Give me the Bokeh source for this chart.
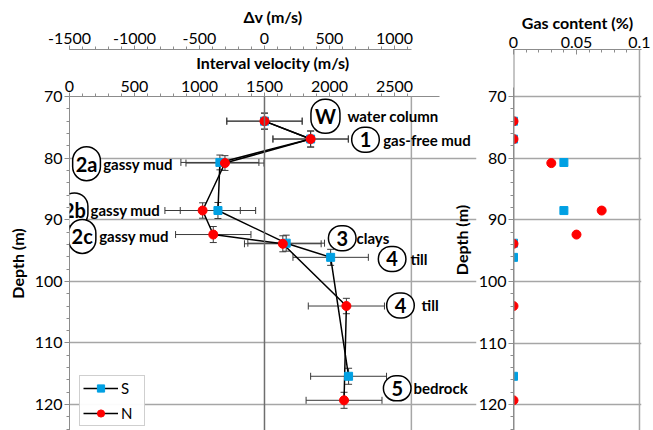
from bokeh.plotting import figure
from bokeh.models import (Range1d, LinearAxis, FixedTicker, Span, Label, Whisker, TeeHead,
                          ColumnDataSource, Legend, LegendItem, NumeralTickFormatter)
from bokeh.layouts import row, column
from bokeh.embed import file_html
from bokeh.resources import INLINE

# ---------------- data ----------------
WATER_V = 1500  # reference velocity for the delta-v axis (m/s)

s_depth = [74.0, 76.9, 80.7, 88.5, 93.8, 96.1, 115.4]
s_vel = [1500, 1855, 1157, 1142, 1667, 2009, 2147]
s_verr = [290, 290, 300, 290, 295, 290, 292]
s_derr = [1.3, 1.3, 1.2, 1.3, 1.3, 1.3, 1.3]
s_gas = [0.0, 0.0, 0.04, 0.04, 0.0, 0.0, 0.0]

n_depth = [74.0, 76.9, 80.8, 88.5, 92.4, 93.9, 104.0, 119.3]
n_vel = [1500, 1855, 1196, 1024, 1106, 1641, 2130, 2112]
n_verr = [290, 290, 300, 290, 290, 295, 293, 292]
n_derr = [1.3, 1.3, 1.2, 1.25, 1.3, 1.3, 1.25, 1.3]
n_gas = [0.0, 0.0, 0.03, 0.07, 0.05, 0.0, 0.0, 0.0]

vel_ticks = [0, 500, 1000, 1500, 2000, 2500]
dv_ticks = [-1500, -1000, -500, 0, 500, 1000]
depth_ticks = [70, 80, 90, 100, 110, 120]
gas_ticks = [0, 0.05, 0.1]

unit_tags = ["W", "1", "2a", "2b", "2c", "3", "4", "4", "5"]
unit_names = ["water column", "gas-free mud", "gassy mud", "gassy mud", "gassy mud",
              "clays", "till", "till", "bedrock"]

# annotation placement (data coordinates)
tag_x = [1969, 2277, 131, 38, 98, 2098, 2482, 2546, 2521]
tag_y = [73.2, 77.0, 80.9, 88.4, 92.7, 93.0, 96.35, 103.9, 117.35]
name_x = [2138, 2413, 259, 162, 228, 2208, 2623, 2708, 2646]
tag_pad = {"W": 4, "1": 8, "2a": 3, "2b": 2, "2c": 3, "3": 8, "4": 8, "5": 8}

# ---------------- styles ----------------
FONT = "Lato"
BLUE = "#00a0e3"
RED = "#ff0000"
GRID = "#a6a6a6"
AXC = "#8c8c8c"
TXT = "#000000"
V_FRAME_END = 3131
V_EDGE = 2630


def style_axis(ax, title):
    ax.axis_label = title
    ax.axis_label_text_font = FONT
    ax.axis_label_text_font_style = "bold"
    ax.axis_label_text_font_size = "16px"
    ax.axis_label_text_color = TXT
    ax.major_label_text_font = FONT
    ax.major_label_text_font_size = "16px"
    ax.major_label_text_color = TXT
    ax.axis_line_color = AXC
    ax.major_tick_line_color = AXC
    ax.minor_tick_line_color = AXC


# ---------------- left panel ----------------
p = figure(width=480, height=430, x_range=Range1d(0, V_FRAME_END), y_range=Range1d(124.2, 70),
           output_backend="svg", toolbar_location=None, x_axis_location="above",
           min_border_left=69, min_border_right=4, min_border_top=96, min_border_bottom=0,
           outline_line_color=None)
p.extra_x_ranges = {"dv": Range1d(-WATER_V, V_FRAME_END - WATER_V)}

vax = p.xaxis[0]
style_axis(vax, "Interval velocity (m/s)")
vax.ticker = FixedTicker(ticks=vel_ticks, minor_ticks=list(range(0, 2601, 100)))
vax.bounds = (0, 2850)
vax.major_tick_out = 4
vax.major_tick_in = 0
vax.minor_tick_out = 3
vax.minor_tick_in = 0
vax.major_label_standoff = 1
vax.axis_label_standoff = 6

dax = LinearAxis(x_range_name="dv")
style_axis(dax, "\u0394v (m/s)")
dax.ticker = FixedTicker(ticks=dv_ticks, minor_ticks=list(range(-1500, 1101, 100)))
dax.formatter = NumeralTickFormatter(format="0")
dax.bounds = (-WATER_V, V_EDGE - WATER_V)
dax.major_tick_out = 4
dax.major_tick_in = 0
dax.minor_tick_out = 3
dax.minor_tick_in = 0
dax.major_label_standoff = 2
dax.axis_label_standoff = 4
p.add_layout(dax, "above")

yax = p.yaxis[0]
style_axis(yax, "Depth (m)")
yax.ticker = FixedTicker(ticks=depth_ticks, minor_ticks=list(range(70, 125, 2)))
yax.major_tick_out = 5
yax.major_tick_in = 0
yax.minor_tick_out = 3
yax.minor_tick_in = 0
yax.major_label_standoff = 2

p.xgrid.visible = False
p.ygrid.ticker = FixedTicker(ticks=depth_ticks[1:])
p.ygrid.grid_line_color = GRID
p.ygrid.grid_line_width = 1.5

p.add_layout(Span(location=WATER_V, dimension="height", line_color="#6e6e6e", line_width=1.5))
p.add_layout(Span(location=V_EDGE, dimension="height", line_color=GRID, line_width=1.5))

src_s = ColumnDataSource(dict(
    depth=s_depth, vel=s_vel, gas=s_gas,
    lo=[v - e for v, e in zip(s_vel, s_verr)], hi=[v + e for v, e in zip(s_vel, s_verr)],
    dlo=[d - e for d, e in zip(s_depth, s_derr)], dhi=[d + e for d, e in zip(s_depth, s_derr)]))
src_n = ColumnDataSource(dict(
    depth=n_depth, vel=n_vel, gas=n_gas,
    lo=[v - e for v, e in zip(n_vel, n_verr)], hi=[v + e for v, e in zip(n_vel, n_verr)],
    dlo=[d - e for d, e in zip(n_depth, n_derr)], dhi=[d + e for d, e in zip(n_depth, n_derr)]))

for src in (src_s, src_n):
    p.add_layout(Whisker(source=src, base="depth", lower="lo", upper="hi", dimension="width",
                         line_color="#3a3a3a", line_width=1,
                         upper_head=TeeHead(size=7, line_color="#3a3a3a", line_width=1),
                         lower_head=TeeHead(size=7, line_color="#3a3a3a", line_width=1)))
    p.add_layout(Whisker(source=src, base="vel", lower="dlo", upper="dhi", dimension="height",
                         line_color="#3a3a3a", line_width=1,
                         upper_head=TeeHead(size=7, line_color="#3a3a3a", line_width=1),
                         lower_head=TeeHead(size=7, line_color="#3a3a3a", line_width=1)))

s_line = p.line("vel", "depth", source=src_s, line_color="black", line_width=1.5)
n_line = p.line("vel", "depth", source=src_n, line_color="black", line_width=1.5)
s_pts = p.scatter("vel", "depth", source=src_s, marker="square", size=8,
                  fill_color=BLUE, line_color=BLUE)
n_pts = p.scatter("vel", "depth", source=src_n, marker="circle", size=9,
                  fill_color=RED, line_color=RED)

for tg, nm, tx, ty, nx in zip(unit_tags, unit_names, tag_x, tag_y, name_x):
    p.add_layout(Label(x=tx, y=ty, text=tg, text_align="center", text_baseline="middle",
                       text_font=FONT, text_font_style="bold", text_font_size="20px",
                       text_color=TXT, background_fill_color="white",
                       border_line_color="black", border_line_width=1.5,
                       padding=(tag_pad[tg], 5), border_radius=14, level="overlay"))
    p.add_layout(Label(x=nx, y=ty, text=nm, text_align="left", text_baseline="middle",
                       text_font=FONT, text_font_style="bold", text_font_size="15px",
                       text_color=TXT, level="overlay"))

legend = Legend(items=[LegendItem(label="S", renderers=[s_line, s_pts]),
                       LegendItem(label="N", renderers=[n_line, n_pts])],
                location=(10, 4), label_text_font=FONT, label_text_font_size="15px",
                label_text_color=TXT, glyph_width=35, glyph_height=18, spacing=7,
                padding=3, margin=0, label_standoff=3, border_line_color="#a0a0a0",
                border_line_width=1, background_fill_color="white")
p.add_layout(legend)

# ---------------- right panel ----------------
q = figure(width=213, height=430, x_range=Range1d(0, 0.1016), y_range=Range1d(124.2, 62.36),
           output_backend="svg", toolbar_location=None, x_axis_location="above",
           min_border_left=73, min_border_right=12, min_border_top=49, min_border_bottom=0,
           outline_line_color=None, background_fill_color=None, border_fill_color=None)

gax = q.xaxis[0]
style_axis(gax, "Gas content (%)")
gax.ticker = FixedTicker(ticks=gas_ticks, minor_ticks=[i / 100 for i in range(0, 11)])
gax.formatter = NumeralTickFormatter(format="0.[00]")
gax.major_tick_in = 5
gax.major_tick_out = 0
gax.minor_tick_in = 3
gax.minor_tick_out = 0
gax.major_label_standoff = 2
gax.axis_label_standoff = 2

qy = q.yaxis[0]
style_axis(qy, "Depth (m)")
qy.ticker = FixedTicker(ticks=depth_ticks, minor_ticks=list(range(70, 125, 2)))
qy.bounds = (68.5, 124.2)
qy.major_tick_out = 5
qy.major_tick_in = 0
qy.minor_tick_out = 3
qy.minor_tick_in = 0
qy.major_label_standoff = 2

q.xgrid.visible = False
q.ygrid.ticker = FixedTicker(ticks=depth_ticks)
q.ygrid.grid_line_color = GRID
q.ygrid.grid_line_width = 1.5
q.add_layout(Span(location=0.1, dimension="height", line_color=GRID, line_width=1.5))
q.add_layout(Span(location=0, dimension="height", line_color=AXC, line_width=2))

q.scatter("gas", "depth", source=src_s, marker="square", size=8, fill_color=BLUE, line_color=BLUE)
q.scatter("gas", "depth", source=src_n, marker="circle", size=9, fill_color=RED, line_color=RED)

layout = row(p, column(q, margin=(0, 0, 0, -40)))
open("out.html", "w").write(file_html(layout, INLINE))
